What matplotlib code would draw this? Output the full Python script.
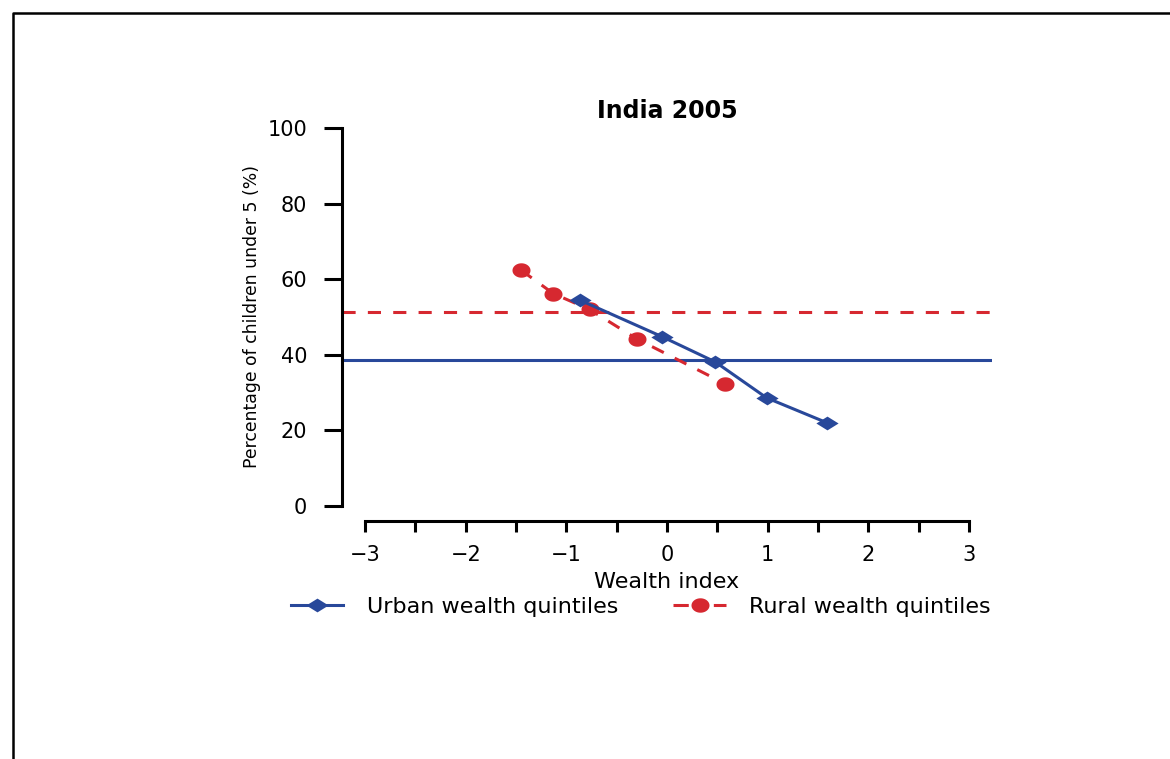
import numpy as np
import matplotlib
matplotlib.use("Agg")
import matplotlib.pyplot as plt
from matplotlib.lines import Line2D

plt.rcParams["font.family"] = ["DejaVu Sans"]

# data
urban_x = [-0.86, -0.05, 0.48, 0.99, 1.59]
urban_y = [54.4, 44.8, 38.1, 28.6, 22.0]
rural_x = [-1.45, -1.13, -0.77, -0.30, 0.58]
rural_y = [62.4, 56.2, 52.0, 44.2, 32.3]
urban_mean = 38.6
rural_mean = 51.3

x_ticks = [-3, -2, -1, 0, 1, 2, 3]
x_minor = [-2.5, -1.5, -0.5, 0.5, 1.5, 2.5]
y_ticks = [0, 20, 40, 60, 80, 100]

BLUE = "#28489A"
RED = "#D62830"
LW = 2.2

# squashed diamond / circle, the original is stretched sideways
diamond = [(-1, 0), (0, 0.62), (1, 0), (0, -0.62), (-1, 0)]
t = np.linspace(0, 2 * np.pi, 40)
oval = list(zip(np.cos(t), 0.8 * np.sin(t)))

fig = plt.figure(figsize=(11.7, 7.59), dpi=100, facecolor="white")
ax = fig.add_axes([342 / 1170, 1 - 521 / 759, 650 / 1170, 408 / 759])

ax.axhline(rural_mean, color=RED, lw=LW, dashes=(4.3, 4))
ax.axhline(urban_mean, color=BLUE, lw=LW)

ax.plot(rural_x, rural_y, color=RED, lw=LW, dashes=(4.3, 4),
        marker=oval, markersize=13, markeredgewidth=0)
ax.plot(urban_x, urban_y, color=BLUE, lw=LW,
        marker=diamond, markersize=16, markeredgewidth=0)

ax.set_xlim(-3.23, 3.23)
ax.set_ylim(-4, 104)

for s in ["top", "right"]:
    ax.spines[s].set_visible(False)
ax.spines["left"].set_bounds(0, 100)
ax.spines["bottom"].set_bounds(-3, 3)
ax.spines["left"].set_linewidth(LW)
ax.spines["bottom"].set_linewidth(LW)

ax.set_xticks(x_ticks)
ax.set_xticklabels(["\u22123", "\u22122", "\u22121", "0", "1", "2", "3"])
ax.set_xticks(x_minor, minor=True)
ax.set_yticks(y_ticks)
ax.tick_params(axis="x", which="both", length=8, width=LW, labelsize=15, pad=9)
ax.tick_params(axis="y", length=13, width=LW, labelsize=15, pad=12)

ax.set_xlabel("Wealth index", fontsize=16, labelpad=5)
ax.set_ylabel("Percentage of children under 5 (%)", fontsize=12.4, labelpad=5)
ax.text(0.5, 0.988, "India 2005", transform=ax.transAxes, ha="center",
        va="baseline", fontsize=17, fontweight="bold")

# legend below
h_urban = Line2D([], [], color=BLUE, lw=LW, marker=diamond, markersize=16,
                 markeredgewidth=0)
h_rural = Line2D([], [], color=RED, lw=LW, dashes=(5, 1.6), marker=oval,
                 markersize=13, markeredgewidth=0)
fig.legend([h_urban, h_rural], ["Urban wealth quintiles", "Rural wealth quintiles"],
           loc="center left", bbox_to_anchor=(291 / 1170, 1 - 607 / 759),
           ncol=2, frameon=False, fontsize=16, handlelength=2.35,
           handletextpad=1.05, columnspacing=2.5, borderpad=0, borderaxespad=0)

# page frame (left and top edges only show)
fig.add_artist(Line2D([13 / 1170, 13 / 1170, 1], [0, 1 - 13 / 759, 1 - 13 / 759],
                      transform=fig.transFigure, color="black", lw=1.8))

fig.savefig("out.png", dpi=100)
